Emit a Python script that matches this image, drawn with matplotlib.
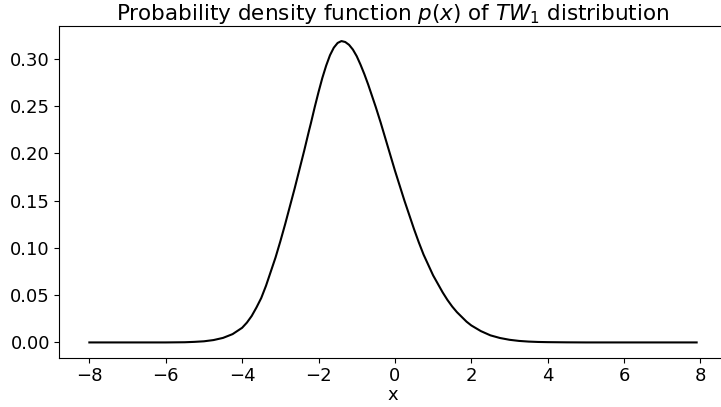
import matplotlib
matplotlib.use("Agg")
import matplotlib.pyplot as plt

# Values
x_vals = [-8.0, -7.0, -6.0, -5.5, -5.25, -5.0, -4.75, -4.5, -4.25, -4.0, -3.875, -3.75,
          -3.625, -3.5, -3.375, -3.25, -3.125, -3.0, -2.875, -2.75, -2.625, -2.5,
          -2.375, -2.25, -2.2, -2.1, -2.0, -1.9, -1.8, -1.7, -1.6, -1.5, -1.4,
          -1.3, -1.2, -1.1, -1.0, -0.9, -0.8, -0.7, -0.6, -0.5, -0.375, -0.25,
          -0.125, 0.0, 0.125, 0.25, 0.375, 0.5, 0.625, 0.75, 0.875, 1.0, 1.125,
          1.25, 1.375, 1.5, 1.625, 1.75, 1.875, 2.0, 2.25, 2.5, 2.75, 3.0, 3.25,
          3.5, 3.75, 4.0, 4.5, 5.0, 6.0, 7.0, 7.9]
p_vals = [0.0, 0.0, 0.0, 0.0002, 0.0006, 0.0012, 0.0025, 0.0048, 0.0088, 0.0155, 0.021, 0.028,
          0.037, 0.047, 0.060, 0.075, 0.090, 0.107, 0.125, 0.144, 0.163, 0.183,
          0.203, 0.224, 0.232, 0.249, 0.265, 0.280, 0.293, 0.304, 0.312, 0.317, 0.319,
          0.318, 0.315, 0.310, 0.303, 0.294, 0.284, 0.273, 0.261, 0.249, 0.233, 0.216,
          0.199, 0.182, 0.166, 0.150, 0.135, 0.120, 0.106, 0.093, 0.082, 0.071, 0.062,
          0.053, 0.045, 0.038, 0.032, 0.027, 0.022, 0.018, 0.012, 0.0075, 0.0047, 0.0028, 0.0016,
          0.0009, 0.0005, 0.0003, 0.0001, 0.0, 0.0, 0.0, 0.0]

title = r'Probability density function $p(x)$ of $TW_1$ distribution'
xlabel = 'x'

fig = plt.figure(figsize=(7.21, 4.07), dpi=100)
ax = fig.add_axes([59/721, (407-357.5)/407, (727-59)/721, (357.5-26)/407])
ax.plot(x_vals, p_vals, color='black', linewidth=1.5)
ax.set_title(title, fontsize=15.5, pad=3)
ax.set_xlabel(xlabel, fontsize=13, labelpad=1)
ax.tick_params(labelsize=13, pad=3)
fig.savefig('out.png', dpi=100)
